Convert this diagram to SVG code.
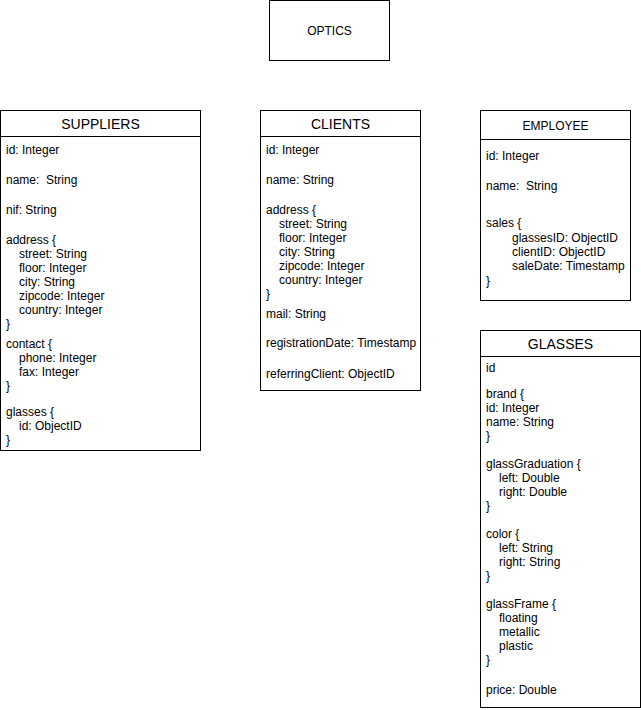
<svg xmlns="http://www.w3.org/2000/svg" width="641" height="710" viewBox="0 0 641 710">
  <style>
    .box { fill: #ffffff; stroke: #000000; stroke-width: 1; }
    .sep { stroke: #000000; stroke-width: 1; }
    text { white-space: pre; }
    .title { font-family: "Liberation Sans", Arial, Helvetica, sans-serif; font-size: 14px; fill: #000000; text-anchor: middle; }
    .small-title { font-family: "Liberation Sans", Arial, Helvetica, sans-serif; font-size: 12px; fill: #000000; text-anchor: middle; }
    .field { font-family: "Liberation Sans", Arial, Helvetica, sans-serif; font-size: 12px; fill: #000000; }
  </style>
  <rect width="641" height="710" fill="#ffffff"/>

  <g id="optics">
    <rect class="box" x="269.5" y="0.5" width="120" height="60"/>
    <text class="small-title" x="329.5" y="35">OPTICS</text>
  </g>

  <g id="suppliers">
    <rect class="box" x="0.5" y="110.5" width="200" height="340"/>
    <line class="sep" x1="0.5" y1="136.5" x2="200.5" y2="136.5"/>
    <text class="title" x="100.5" y="129">SUPPLIERS</text>
    <text class="field" x="6" y="154">id: Integer</text>
    <text class="field" x="6" y="184" xml:space="preserve">name:  String</text>
    <text class="field" x="6" y="214">nif: String</text>
    <text class="field" x="6" y="244">address {</text>
    <text class="field" x="19" y="258">street: String</text>
    <text class="field" x="19" y="272">floor: Integer</text>
    <text class="field" x="19" y="286">city: String</text>
    <text class="field" x="19" y="300">zipcode: Integer</text>
    <text class="field" x="19" y="314">country: Integer</text>
    <text class="field" x="6" y="328">}</text>
    <text class="field" x="6" y="348">contact {</text>
    <text class="field" x="19" y="362">phone: Integer</text>
    <text class="field" x="19" y="376">fax: Integer</text>
    <text class="field" x="6" y="390">}</text>
    <text class="field" x="6" y="416">glasses {</text>
    <text class="field" x="19" y="430">id: ObjectID</text>
    <text class="field" x="6" y="444">}</text>
  </g>

  <g id="clients">
    <rect class="box" x="260.5" y="110.5" width="160" height="280"/>
    <line class="sep" x1="260.5" y1="136.5" x2="420.5" y2="136.5"/>
    <text class="title" x="340.5" y="129">CLIENTS</text>
    <text class="field" x="266" y="154">id: Integer</text>
    <text class="field" x="266" y="184">name: String</text>
    <text class="field" x="266" y="214">address {</text>
    <text class="field" x="279" y="228">street: String</text>
    <text class="field" x="279" y="242">floor: Integer</text>
    <text class="field" x="279" y="256">city: String</text>
    <text class="field" x="279" y="270">zipcode: Integer</text>
    <text class="field" x="279" y="284">country: Integer</text>
    <text class="field" x="266" y="298">}</text>
    <text class="field" x="266" y="318">mail: String</text>
    <text class="field" x="266" y="347">registrationDate: Timestamp</text>
    <text class="field" x="266" y="378">referringClient: ObjectID</text>
  </g>

  <g id="employee">
    <rect class="box" x="480.5" y="110.5" width="150" height="190"/>
    <line class="sep" x1="480.5" y1="139.5" x2="630.5" y2="139.5"/>
    <text class="small-title" x="555.5" y="130">EMPLOYEE</text>
    <text class="field" x="486" y="160">id: Integer</text>
    <text class="field" x="486" y="190" xml:space="preserve">name:  String</text>
    <text class="field" x="486" y="227">sales {</text>
    <text class="field" x="512" y="242">glassesID: ObjectID</text>
    <text class="field" x="512" y="256">clientID: ObjectID</text>
    <text class="field" x="512" y="270">saleDate: Timestamp</text>
    <text class="field" x="486" y="285">}</text>
  </g>

  <g id="glasses">
    <rect class="box" x="480.5" y="330.5" width="160" height="377"/>
    <line class="sep" x1="480.5" y1="356.5" x2="640.5" y2="356.5"/>
    <text class="title" x="560.5" y="349">GLASSES</text>
    <text class="field" x="486" y="372">id</text>
    <text class="field" x="486" y="398">brand {</text>
    <text class="field" x="486" y="412">id: Integer</text>
    <text class="field" x="486" y="426">name: String</text>
    <text class="field" x="486" y="440">}</text>
    <text class="field" x="486" y="468">glassGraduation {</text>
    <text class="field" x="499" y="482">left: Double</text>
    <text class="field" x="499" y="496">right: Double</text>
    <text class="field" x="486" y="510">}</text>
    <text class="field" x="486" y="538">color {</text>
    <text class="field" x="499" y="552">left: String</text>
    <text class="field" x="499" y="566">right: String</text>
    <text class="field" x="486" y="580">}</text>
    <text class="field" x="486" y="608">glassFrame {</text>
    <text class="field" x="499" y="622">floating</text>
    <text class="field" x="499" y="636">metallic</text>
    <text class="field" x="499" y="650">plastic</text>
    <text class="field" x="486" y="664">}</text>
    <text class="field" x="486" y="694">price: Double</text>
  </g>

  <g id="connectors"></g>
</svg>
